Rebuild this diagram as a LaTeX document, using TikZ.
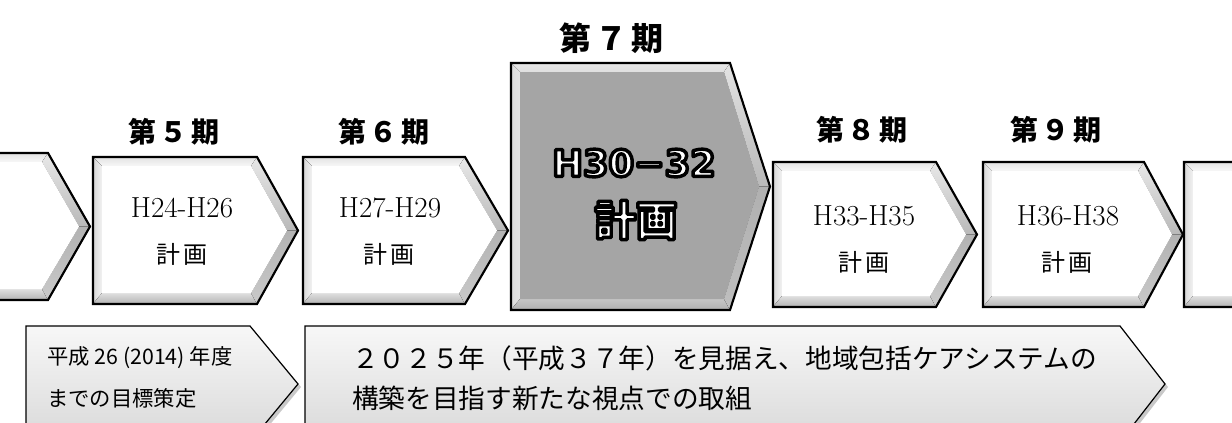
\documentclass[tikz,border=0pt]{standalone}
\usepackage{fontspec}
\usetikzlibrary{calc}
\newfontfamily\jp{Noto Sans CJK JP}
\newfontfamily\djv{DejaVu Sans}
\definecolor{gfacec}{HTML}{A5A5A5}
\newcommand\strokedtext[1]{\special{pdf:literal direct 2 Tr 1 j 2.6 w 0 0 0 RG}#1\special{pdf:literal direct 0 Tr}}
\tikzset{
  wface/.style={fill=white},
  wtop/.style={top color=gray!22, bottom color=gray!6},
  wleft/.style={left color=gray!32, right color=gray!10},
  wbot/.style={top color=gray!25, bottom color=gray!60},
  wur/.style={top color=gray!18, bottom color=gray!55},
  wlr/.style={top color=gray!60, bottom color=gray!42},
  gface/.style={fill=gfacec},
  gtop/.style={top color=gray!18, bottom color=gray!25},
  gleft/.style={left color=gray!28, right color=gray!22},
  gbot/.style={top color=gray!45, bottom color=gray!62},
  gur/.style={top color=gray!22, bottom color=gray!55},
  glr/.style={top color=gray!62, bottom color=gray!50},
  outline/.style={draw=black, line width=1.6pt, line join=miter},
  lab/.style={font=\jp\bfseries\fontsize{21}{24}\selectfont, inner sep=0pt},
  labbig/.style={font=\jp\bfseries\fontsize{24}{28}\selectfont, inner sep=0pt},
  ser/.style={font=\fontsize{21.75}{24}\selectfont, inner sep=0pt},
  kj/.style={font=\jp\fontsize{18}{20}\selectfont, inner sep=0pt},
  big/.style={font=\djv\bfseries\fontsize{27.5}{30}\selectfont, inner sep=0pt, text=white},
  bigk/.style={font=\jp\bfseries\fontsize{31}{34}\selectfont, inner sep=0pt, text=white},
  btxt/.style={font=\jp\fontsize{20}{24}\selectfont, anchor=west, inner sep=0pt},
  stxt/.style={font=\jp\fontsize{16}{20}\selectfont, anchor=west, inner sep=0pt},
  arrowfill/.style={top color=gray!6, bottom color=gray!30, draw=black, line width=0.9pt},
  arrowshadow/.style={fill=gray!70, opacity=0.6},
}
% #1 L, #2 T, #3 B, #4 S (shoulder x), #5 P (tip x), #6 style prefix
\newcommand\bevbox[6]{%
  \pgfmathsetmacro\bM{(#2+#3)/2}%
  \pgfmathsetmacro\bLi{#1+9}%
  \pgfmathsetmacro\bTi{#2+9}%
  \pgfmathsetmacro\bBi{#3-11}%
  \pgfmathsetmacro\bSi{#4-6}%
  \pgfmathsetmacro\bPi{#5-11}%
  \fill[#6top] (#1,#2) -- (#4,#2) -- (\bSi,\bTi) -- (\bLi,\bTi) -- cycle;
  \fill[#6left] (#1,#2) -- (\bLi,\bTi) -- (\bLi,\bBi) -- (#1,#3) -- cycle;
  \fill[#6bot] (#1,#3) -- (\bLi,\bBi) -- (\bSi,\bBi) -- (#4,#3) -- cycle;
  \fill[#6ur] (#4,#2) -- (#5,\bM) -- (\bPi,\bM) -- (\bSi,\bTi) -- cycle;
  \fill[#6lr] (#5,\bM) -- (#4,#3) -- (\bSi,\bBi) -- (\bPi,\bM) -- cycle;
  \fill[#6face] (\bLi,\bTi) -- (\bSi,\bTi) -- (\bPi,\bM) -- (\bSi,\bBi) -- (\bLi,\bBi) -- cycle;
  \draw[outline] (#1,#2) -- (#4,#2) -- (#5,\bM) -- (#4,#3) -- (#1,#3) -- cycle;
}
\begin{document}
\begin{tikzpicture}[x=0.75pt,y=-0.75pt]
\useasboundingbox (0,0) rectangle (1232,422);
\clip (0,0) rectangle (1232,422);
\fill[white] (0,0) rectangle (1232,422);

% top row of plan boxes
\bevbox{-20}{153}{300}{48}{90}{w}
\bevbox{93}{157}{304}{257}{298}{w}
\bevbox{303}{157}{304}{465}{508}{w}
\bevbox{511}{63}{310}{730}{770}{g}
\bevbox{773}{162}{307}{936}{977}{w}
\bevbox{983}{162}{307}{1144}{1183}{w}
\bevbox{1184}{162}{307}{1300}{1340}{w}

% period labels
\node[lab] (l5) at (174,132) {第\kern3pt５\kern3pt期};
\node[lab] (l6) at (384,132) {第\kern3pt６\kern3pt期};
\node[labbig] (l7) at (611,38) {第\kern3pt７\kern3pt期};
\node[lab] (l8) at (862,130) {第\kern3pt８\kern3pt期};
\node[lab] (l9) at (1056,130) {第\kern3pt９\kern3pt期};

% box texts
\node[ser] (t5a) at (182,207.5) {H24-H26};
\node[kj]  (t5b) at (182,254) {計\kern3pt画};
\node[ser] (t6a) at (390,207.5) {H27-H29};
\node[kj]  (t6b) at (389,254) {計\kern3pt画};
\node[ser] (t8a) at (864,216) {H33-H35};
\node[kj]  (t8b) at (864,262) {計\kern3pt画};
\node[ser] (t9a) at (1068,216) {H36-H38};
\node[kj]  (t9b) at (1067,262) {計\kern3pt画};

% big outlined text
\node[big] (h) at (634,163) {\strokedtext{H30−32}};
\node[bigk] (k) at (636,220) {\strokedtext{計画}};

% bottom arrows
\fill[arrowshadow] (29,329) -- (253,329) -- (301,387) -- (253,445) -- (29,445) -- cycle;
\path[arrowfill] (26,326) -- (250,326) -- (298,384) -- (250,442) -- (26,442) -- cycle;
\fill[arrowshadow] (308,329) -- (1123,329) -- (1168,387) -- (1123,445) -- (308,445) -- cycle;
\path[arrowfill] (305,326) -- (1120,326) -- (1165,384) -- (1120,442) -- (305,442) -- cycle;

\node[stxt] (s1) at (47,358) {平成 26 (2014) 年度};
\node[stxt] (s2) at (47,398) {までの目標策定};
\node[btxt] (r1) at (352,358) {２０２５年（平成３７年）を見据え、地域包括ケアシステムの};
\node[btxt] (r2) at (352,398) {構築を目指す新たな視点での取組};
\end{tikzpicture}
\end{document}
